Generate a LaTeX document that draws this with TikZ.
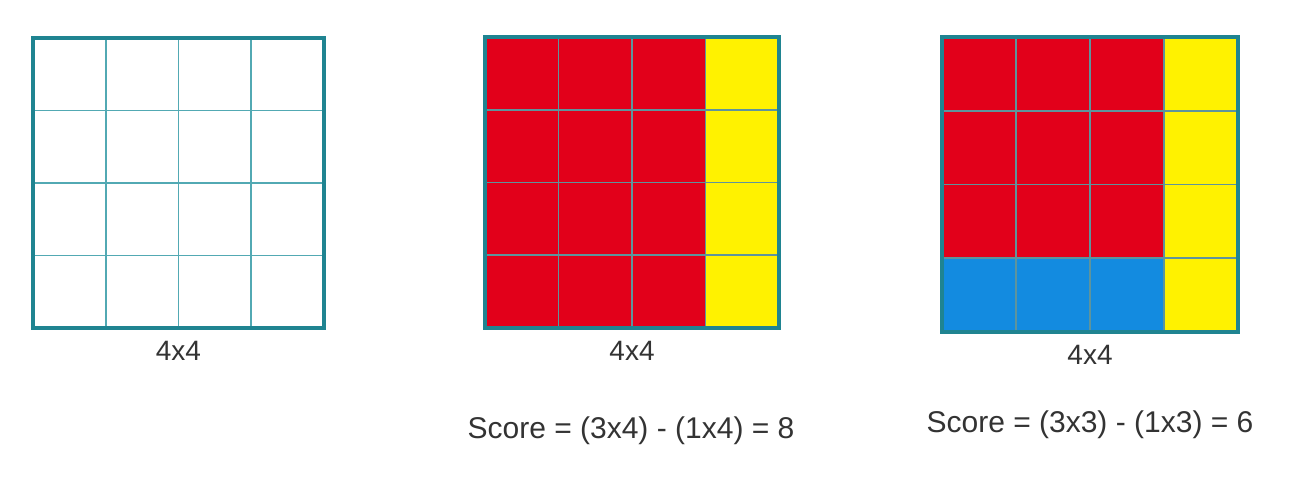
\documentclass[tikz,border=0pt]{standalone}
\usepackage{fontspec}
\setmainfont{Liberation Sans}
\usepackage{tikz}
\usetikzlibrary{positioning}
\usepackage{xcolor}
\definecolor{gridteal}{HTML}{1F8491}
\definecolor{gridlight}{HTML}{52A9B3}
\definecolor{gridgrey}{HTML}{5E949C}
\definecolor{cellred}{HTML}{E2001A}
\definecolor{cellyellow}{HTML}{FFF200}
\definecolor{cellblue}{HTML}{138BE0}
\definecolor{txtgrey}{HTML}{333333}

\begin{document}
\begin{tikzpicture}[x=1pt, y=-1pt,
    frame/.style={draw=gridteal, line width=3.6pt},
    thin/.style={draw=gridlight, line width=1.8pt},
    thingrey/.style={draw=gridgrey, line width=1.8pt},
    size/.style={font=\fontsize{28}{32}\selectfont, text=txtgrey, inner sep=0pt},
    score/.style={font=\fontsize{30}{34}\selectfont, text=txtgrey, inner sep=0pt}]
  \useasboundingbox[fill=white] (0,0) rectangle (1303,484);

  % empty board
  \begin{scope}[shift={(33,38)}, x=72.75pt, y=-72.5pt]
    \foreach \k in {1,2,3} {
      \draw[thin] (\k,0) -- (\k,4);
      \draw[thin] (0,\k) -- (4,\k);
    }
    \draw[frame] (0,0) rectangle (4,4);
    \coordinate (b1) at (2,4);
  \end{scope}

  % red + yellow
  \begin{scope}[shift={(485,37)}, x=73.5pt, y=-72.75pt]
    \fill[cellred] (0,0) rectangle (3,4);
    \fill[cellyellow] (3,0) rectangle (4,4);
    \foreach \k in {1,2,3} {
      \draw[thingrey] (\k,0) -- (\k,4);
      \draw[thingrey] (0,\k) -- (4,\k);
    }
    \draw[frame] (0,0) rectangle (4,4);
    \coordinate (b2) at (2,4);
  \end{scope}

  % red + yellow + blue
  \begin{scope}[shift={(942,37)}, x=74pt, y=-73.75pt]
    \fill[cellred] (0,0) rectangle (3,3);
    \fill[cellblue] (0,3) rectangle (3,4);
    \fill[cellyellow] (3,0) rectangle (4,4);
    \foreach \k in {1,2,3} {
      \draw[thingrey] (\k,0) -- (\k,4);
      \draw[thingrey] (0,\k) -- (4,\k);
    }
    \draw[frame] (0,0) rectangle (4,4);
    \coordinate (b3) at (2,4);
  \end{scope}

  \node[size, below=13pt of b1] (s1) {4x4};
  \node[size, below=13pt of b2] (s2) {4x4};
  \node[size, below=13pt of b3] (s3) {4x4};
  \node[score, below=56pt of s2.south, xshift=-1pt] (sc2) {Score = (3x4) - (1x4) = 8};
  \node[score, below=46pt of s3.south] (sc3) {Score = (3x3) - (1x3) = 6};
\end{tikzpicture}
\end{document}
